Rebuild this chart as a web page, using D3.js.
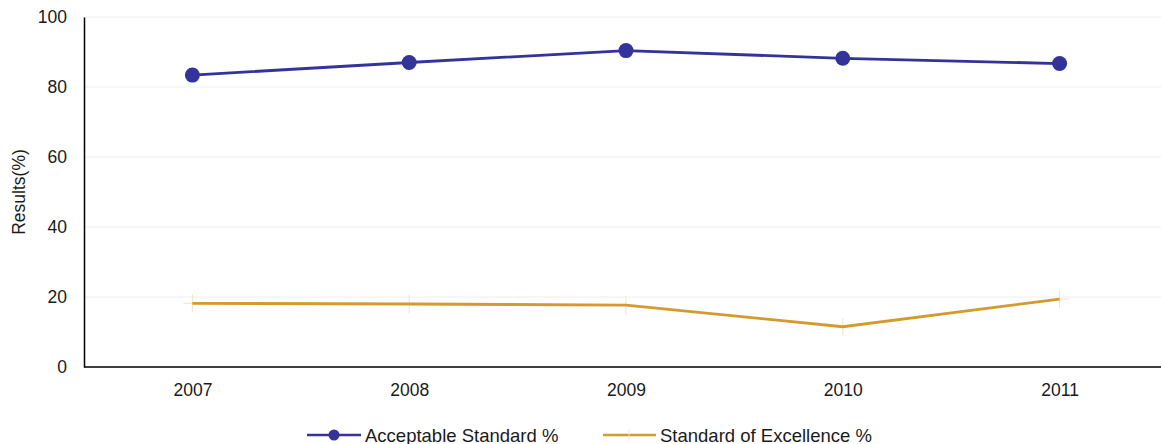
<!DOCTYPE html>
<html><head><meta charset="utf-8">
<script src="https://cdn.jsdelivr.net/npm/d3@7"></script>
<style>body{margin:0;background:#fff}svg{display:block;font-family:"Liberation Sans",Arial,sans-serif}</style>
</head><body><svg id="c" width="1161" height="444"></svg>
<script>
const years = ["2007","2008","2009","2010","2011"];
const acceptable = [83.4, 87.0, 90.4, 88.2, 86.7];
const excellence = [18.2, 18.0, 17.7, 11.5, 19.4];
const yTicks = [0,20,40,60,80,100];
const seriesNames = ["Acceptable Standard %","Standard of Excellence %"];

const svg = d3.select("#c");
const x = d3.scalePoint().domain(years).range([84,1168]).padding(0.5);
const y = d3.scaleLinear().domain([0,100]).range([367,17]);

// grid
svg.append("g").selectAll("line").data(yTicks.filter(d=>d>0)).join("line")
  .attr("x1",84).attr("x2",1161).attr("y1",d=>y(d)).attr("y2",d=>y(d))
  .attr("stroke","#eeeeee").attr("stroke-width",1);

// y axis
const ya = svg.append("g").attr("transform","translate(84,0)").call(d3.axisLeft(y).tickValues(yTicks).tickSize(0).tickPadding(17));
ya.select(".domain").attr("stroke","#000").attr("stroke-width",1.5);
ya.selectAll("text").attr("font-size",17.5).attr("fill","#1a1a1a").attr("font-family","Liberation Sans, Arial, sans-serif");

// x axis
const xa = svg.append("g").attr("transform","translate(0,367)").call(d3.axisBottom(x).tickSize(0).tickPadding(17));
xa.select(".domain").attr("d","M84,0H1161").attr("stroke","#000").attr("stroke-width",1.5);
xa.selectAll("text").attr("font-size",17.5).attr("fill","#1a1a1a").attr("font-family","Liberation Sans, Arial, sans-serif");

svg.append("text").attr("transform","translate(25,192) rotate(-90)").attr("text-anchor","middle")
  .attr("font-size",17.5).attr("fill","#1a1a1a").text("Results(%)");

const line = d3.line().x((d,i)=>x(years[i])).y(d=>y(d));
const gold = "#d49a2e", blue = "#333399";

// excellence faint cross markers
const cg = svg.append("g");
excellence.forEach((v,i)=>{
  cg.append("line").attr("x1",x(years[i])).attr("x2",x(years[i])).attr("y1",y(v)-9).attr("y2",y(v)+9).attr("stroke","#f3e3c6").attr("stroke-width",1);
  cg.append("line").attr("x1",x(years[i])-9).attr("x2",x(years[i])+9).attr("y1",y(v)).attr("y2",y(v)).attr("stroke","#f3e3c6").attr("stroke-width",1);
});
svg.append("path").datum(excellence).attr("d",line).attr("fill","none").attr("stroke",gold).attr("stroke-width",2.8);

svg.append("path").datum(acceptable).attr("d",line).attr("fill","none").attr("stroke",blue).attr("stroke-width",2.8);
svg.append("g").selectAll("circle").data(acceptable).join("circle")
  .attr("cx",(d,i)=>x(years[i])).attr("cy",d=>y(d)).attr("r",7.5).attr("fill",blue);

// legend
const lg = svg.append("g");
lg.append("line").attr("x1",307).attr("x2",361).attr("y1",435).attr("y2",435).attr("stroke",blue).attr("stroke-width",2.5);
lg.append("circle").attr("cx",334).attr("cy",435).attr("r",5.5).attr("fill",blue);
lg.append("text").attr("x",365).attr("y",441.5).attr("font-size",18.5).attr("fill","#1a1a1a").text(seriesNames[0]);
lg.append("line").attr("x1",603).attr("x2",656).attr("y1",435).attr("y2",435).attr("stroke",gold).attr("stroke-width",2.5);
lg.append("line").attr("x1",629).attr("x2",629).attr("y1",429).attr("y2",441).attr("stroke","#f3e3c6").attr("stroke-width",1);
lg.append("text").attr("x",660).attr("y",441.5).attr("font-size",18.5).attr("fill","#1a1a1a").text(seriesNames[1]);
</script></body></html>
